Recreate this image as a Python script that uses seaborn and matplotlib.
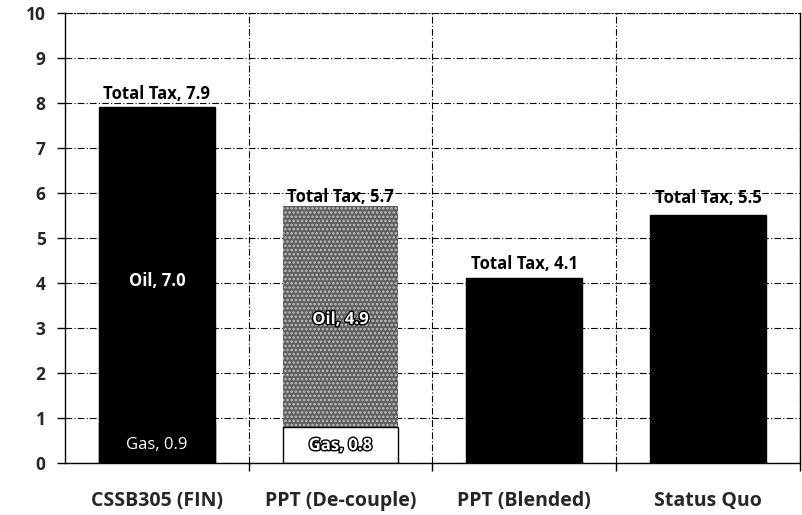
import numpy as np
import pandas as pd
import matplotlib
matplotlib.use("Agg")
import matplotlib.pyplot as plt
import matplotlib.patheffects as pe
import seaborn as sns

# Scenario data (billions)
categories = ["CSSB305 (FIN)", "PPT (De-couple)", "PPT (Blended)", "Status Quo"]
gas_tax = [0.9, 0.8, np.nan, np.nan]
oil_tax = [7.0, 4.9, np.nan, np.nan]
total_tax = [7.9, 5.7, 4.1, 5.5]
y_ticks = [0, 1, 2, 3, 4, 5, 6, 7, 8, 9, 10]

sns.set_theme(style="white")
plt.rcParams["font.family"] = ["Open Sans", "DejaVu Sans"]
plt.rcParams["hatch.linewidth"] = 1.2

df = pd.DataFrame({"scenario": categories, "gas": gas_tax, "oil": oil_tax, "total": total_tax})

fig = plt.figure(figsize=(8.03, 5.15), dpi=100)
ax = fig.add_axes([0.081, 0.101, 0.915, 0.874])

total_colors = ["black", "#5e5e5e", "black", "black"]
gas_colors = ["black", "white", "black", "black"]

# Full-height bars (oil + gas, or total)
sns.barplot(data=df, x="scenario", y="total", hue="scenario", palette=total_colors,
            width=0.63, legend=False, ax=ax, saturation=1, edgecolor="black", linewidth=1)
n_total = len(ax.patches)
# Gas segment at the base
sns.barplot(data=df, x="scenario", y="gas", hue="scenario", palette=gas_colors,
            width=0.63, legend=False, ax=ax, saturation=1, edgecolor="black", linewidth=1)

# Speckled texture on the de-coupled oil segment
for p in ax.patches[:n_total]:
    if abs(p.get_x() + p.get_width() / 2 - 1) < 0.01:
        p.set_hatch("....")
        p.set_edgecolor("#c4c4c4")
        p.set_linewidth(0)

ax.set_xlim(-0.5, 3.5)
ax.set_ylim(0, 10)
ax.set_yticks(y_ticks)
ax.set_yticklabels([str(t) for t in y_ticks], fontsize=12.5, fontweight="bold")
ax.set_xticks(range(len(categories)))
ax.set_xticklabels(categories, fontsize=14, fontweight="bold")
ax.set_xticks([0.5, 1.5, 2.5, 3.5], minor=True)
ax.tick_params(axis="x", which="major", length=0, pad=20)
ax.tick_params(axis="x", which="minor", length=6, width=1, color="black", direction="out", bottom=True)
ax.tick_params(axis="y", length=6, width=1, color="black", direction="out", left=True, pad=8)
ax.set_xlabel("")
ax.set_ylabel("")

ax.grid(axis="y", which="major", color="black", linestyle=(0, (6, 2, 1, 2)), linewidth=0.8)
ax.grid(axis="x", which="minor", color="black", linestyle=(0, (6, 2, 1, 2)), linewidth=0.8)
ax.set_axisbelow(True)

for side in ["left", "right", "bottom"]:
    ax.spines[side].set_color("black")
    ax.spines[side].set_linewidth(1)
ax.spines["top"].set_linestyle((0, (6, 2, 1, 2)))
ax.spines["top"].set_linewidth(0.8)
ax.spines["top"].set_color("black")

# Total labels above bars
offsets = [3, 0, 4, 6]
for i, (tot, off) in enumerate(zip(total_tax, offsets)):
    ax.annotate(f"Total Tax, {tot:.1f}", (i, tot), xytext=(0, off), textcoords="offset points",
                ha="center", va="bottom", fontsize=12, fontweight="bold", color="black")

# Segment labels
outline = [pe.withStroke(linewidth=2, foreground="black")]
for i, (g, o) in enumerate(zip(gas_tax, oil_tax)):
    if np.isnan(g):
        continue
    if i == 0:
        ax.text(i, 4.05, f"Oil, {o:.1f}", ha="center", va="center", fontsize=12,
                fontweight="bold", color="white")
        ax.text(i, 0.4, f"Gas, {g:.1f}", ha="center", va="center", fontsize=12,
                color="white")
    else:
        ax.text(i, 3.2, f"Oil, {o:.1f}", ha="center", va="center", fontsize=12,
                fontweight="bold", color="white", path_effects=outline)
        ax.text(i, 0.4, f"Gas, {g:.1f}", ha="center", va="center", fontsize=12,
                fontweight="bold", color="white", path_effects=outline)

fig.savefig("out.png", dpi=100, facecolor="white")
